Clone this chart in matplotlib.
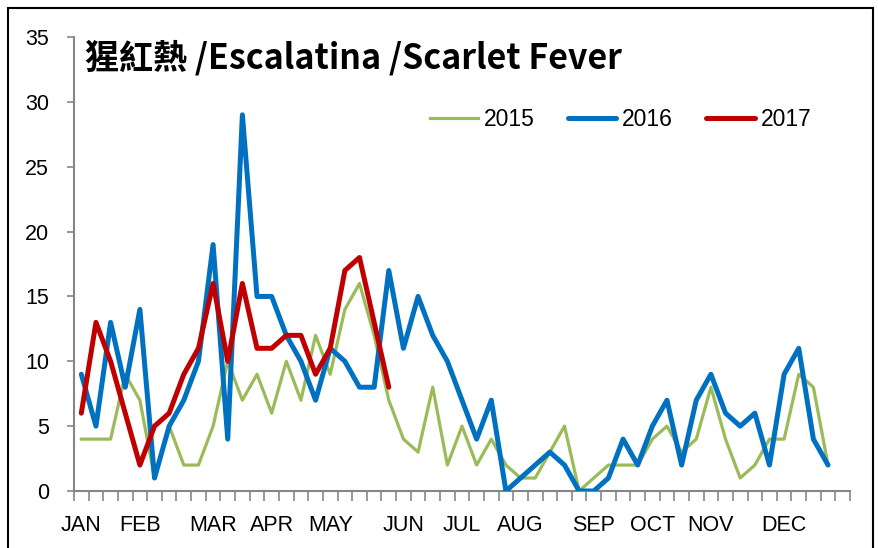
import matplotlib
matplotlib.use("Agg")
import matplotlib.pyplot as plt
from matplotlib.patches import Rectangle
import numpy as np

# ---- data ----
n_weeks = 53
month_names = ["JAN", "FEB", "MAR", "APR", "MAY", "JUN", "JUL", "AUG", "SEP", "OCT", "NOV", "DEC"]
month_weeks = [0, 4, 9, 13, 17, 22, 26, 30, 35, 39, 43, 48]

y2015 = [4, 4, 4, 9, 7, 1, 5, 2, 2, 5,
         10, 7, 9, 6, 10, 7, 12, 9, 14, 16,
         12, 7, 4, 3, 8, 2, 5, 2, 4, 2,
         1, 1, 3, 5, 0, 1, 2, 2, 2, 4,
         5, 3, 4, 8, 4, 1, 2, 4, 4, 9,
         8, 2]
y2016 = [9, 5, 13, 8, 14, 1, 5, 7, 10, 19,
         4, 29, 15, 15, 12, 10, 7, 11, 10, 8,
         8, 17, 11, 15, 12, 10, 7, 4, 7, 0,
         1, 2, 3, 2, 0, 0, 1, 4, 2, 5,
         7, 2, 7, 9, 6, 5, 6, 2, 9, 11,
         4, 2]
y2017 = [6, 13, 10, 6, 2, 5, 6, 9, 11, 16,
         10, 16, 11, 11, 12, 12, 9, 11, 17, 18,
         13, 8]
series_names = ["2015", "2016", "2017"]
title = "猩紅熱 /Escalatina /Scarlet Fever"

# ---- figure ----
W, H = 879, 548
fig = plt.figure(figsize=(W / 100, H / 100), dpi=100)
ax = fig.add_axes([74 / W, 1 - 491 / H, (850 - 74) / W, (491 - 37) / H])

font_main = ["Liberation Sans Narrow", "Liberation Sans", "DejaVu Sans"]
font_title = ["Liberation Sans Narrow", "Noto Sans CJK TC", "DejaVu Sans"]

x15 = np.arange(len(y2015))
x16 = np.arange(len(y2016))
x17 = np.arange(len(y2017))
ax.plot(x15, y2015, color="#9BBB59", lw=2.3, solid_joinstyle="round", label=series_names[0], zorder=3)
ax.plot(x16, y2016, color="#0070C0", lw=3.6, solid_joinstyle="round", solid_capstyle="round",
        label=series_names[1], zorder=4)
ax.plot(x17, y2017, color="#C00000", lw=3.6, solid_joinstyle="round", solid_capstyle="round",
        label=series_names[2], zorder=5)

ax.set_xlim(-0.5, n_weeks - 0.5)
ax.set_ylim(0, 35)

# spines
for s in ["top", "right"]:
    ax.spines[s].set_visible(False)
for s in ["left", "bottom"]:
    ax.spines[s].set_color("#868686")
    ax.spines[s].set_linewidth(1.5)

# y ticks
ax.set_yticks(np.arange(0, 36, 5))
ax.tick_params(axis="y", direction="out", length=5, width=1.2, color="#868686",
               pad=13, labelsize=15.5, labelcolor="black")

# x ticks: boundaries as major ticks, labels at centres as minor
ax.set_xticks(np.arange(n_weeks + 1) - 0.5)
ax.set_xticklabels([])
ax.tick_params(axis="x", which="major", direction="out", length=7, width=1.2, color="#868686")
ax.set_xticks(month_weeks, minor=True)
ax.set_xticklabels(month_names, minor=True)
ax.tick_params(axis="x", which="minor", length=0, pad=17, labelsize=15.5, labelcolor="black")

for lab in ax.get_xticklabels(minor=True) + ax.get_yticklabels():
    lab.set_family(font_main)

# title
ax.text(11 / 776, (491 - 58) / 454, title, transform=ax.transAxes, ha="left", va="center",
        fontsize=24.5, fontweight="bold", family=font_title, color="black")

# legend
leg = ax.legend(loc="center left", bbox_to_anchor=((430 - 74) / 776, (491 - 120) / 454),
                ncol=3, frameon=False, handlelength=2.1, handletextpad=0.26,
                columnspacing=1.45, borderaxespad=0, borderpad=0,
                prop={"family": font_main, "size": 16.5})

# outer border
fig.add_artist(Rectangle((8 / W, -0.05), (873 - 8) / W, 1 - 8 / H + 0.05,
                         transform=fig.transFigure, fill=False, edgecolor="black", lw=1.5))

fig.savefig("out.png", dpi=100)
